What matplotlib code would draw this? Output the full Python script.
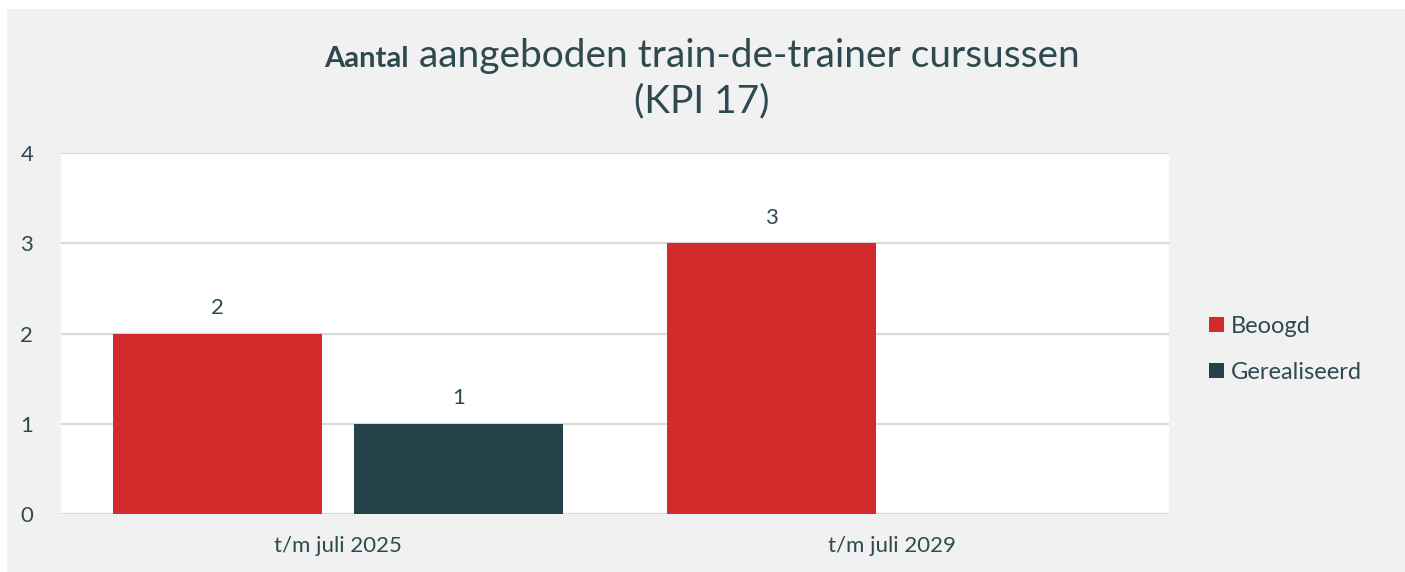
import matplotlib.pyplot as plt
import numpy as np
from matplotlib.patches import Rectangle, Patch

categories = ['t/m juli 2025', 't/m juli 2029']
beoogd = [2, 3]
gerealiseerd = [1, np.nan]  # nog geen realisatie voor 2029
series_names = ['Beoogd', 'Gerealiseerd']

RED = '#d22b2b'
TEAL = '#25424a'
TXT = '#2e4a50'
GRID = '#d9d9d9'

plt.rcParams['font.family'] = ['Lato', 'DejaVu Sans']

fig = plt.figure(figsize=(14.05, 5.72), dpi=100)
fig.patch.set_facecolor('white')
fig.add_artist(Rectangle((7 / 1405, 0), 1, 1 - 9 / 572, transform=fig.transFigure,
                         facecolor='#f1f1f1', edgecolor='none', zorder=-10))

ax = fig.add_axes([61 / 1405, 1 - 514 / 572, (1169 - 61) / 1405, (514 - 153) / 572])
ax.set_facecolor('white')

x = np.arange(len(categories))
w = 0.377
b1 = ax.bar(x - 0.217, beoogd, w, color=RED, zorder=3)
b2 = ax.bar(x + 0.217, gerealiseerd, w, color=TEAL, zorder=3)
for bars in (b1, b2):
    ax.bar_label(bars, padding=11, fontsize=16, color=TXT)

ax.set_xlim(-0.5, 1.5)
ax.set_ylim(0, 4)
ax.set_yticks([0, 1, 2, 3, 4])
ax.set_xticks(x)
ax.set_xticklabels(categories)
ax.tick_params(axis='both', length=0, labelsize=16, labelcolor=TXT)
ax.tick_params(axis='y', pad=20)
ax.tick_params(axis='x', pad=16)
ax.yaxis.grid(True, color=GRID, linewidth=1.6, zorder=0)
ax.set_axisbelow(True)
for s in ax.spines.values():
    s.set_visible(False)

handles = [Patch(facecolor=RED), Patch(facecolor=TEAL)]
fig.legend(handles, series_names, loc='center left', bbox_to_anchor=(1209 / 1405, 1 - 349.5 / 572),
           frameon=False, fontsize=17, labelcolor=TXT, handlelength=0.62, handleheight=0.62,
           handletextpad=0.3, labelspacing=1.05, borderpad=0, borderaxespad=0)

# title: bold first word, regular remainder, centred as one line
renderer = fig.canvas.get_renderer()
t_bold = fig.text(0, 1 - 67 / 572, 'Aantal', fontsize=21, fontweight='bold', color=TXT, va='baseline')
t_reg = fig.text(0, 1 - 67 / 572, ' aangeboden train-de-trainer cursussen', fontsize=28,
                 color=TXT, va='baseline')
wb = t_bold.get_window_extent(renderer).width
wr = t_reg.get_window_extent(renderer).width
start = 702 - (wb + wr) / 2
t_bold.set_x(start / 1405)
t_reg.set_x((start + wb) / 1405)
fig.text(702 / 1405, 1 - 112 / 572, '(KPI 17)', fontsize=28, color=TXT,
         ha='center', va='baseline')

fig.savefig('out.png', dpi=100)
